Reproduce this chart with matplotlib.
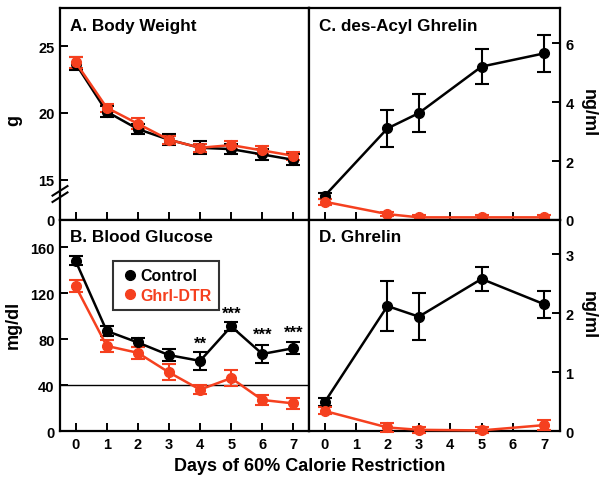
import matplotlib
matplotlib.use("Agg")
import matplotlib.pyplot as plt

plt.rcParams["font.family"] = ["Liberation Sans", "DejaVu Sans"]
plt.rcParams["font.weight"] = "bold"

RED = "#f5401f"
days = [0, 1, 2, 3, 4, 5, 6, 7]
hormone_days = [0, 2, 3, 5, 7]

# A. body weight (g)
bw_ctrl = [23.7, 20.1, 18.8, 18.0, 17.4, 17.3, 16.9, 16.5]
bw_ctrl_err = [0.5, 0.4, 0.4, 0.4, 0.5, 0.4, 0.4, 0.4]
bw_dtr = [23.8, 20.4, 19.2, 18.0, 17.4, 17.6, 17.2, 16.8]
bw_dtr_err = [0.4, 0.3, 0.4, 0.3, 0.3, 0.3, 0.3, 0.3]

# B. blood glucose (mg/dl)
glu_ctrl = [148, 87, 77, 66, 61, 91, 67, 72]
glu_ctrl_err = [4, 4, 4, 5, 8, 4, 8, 5]
glu_dtr = [126, 74, 68, 51, 36, 46, 27, 24]
glu_dtr_err = [5, 5, 5, 7, 4, 7, 4, 5]
glu_stars = ["", "", "", "", "**", "***", "***", "***"]
star_y = [0, 0, 0, 0, 70, 96, 78, 79]

# C. des-acyl ghrelin (ng/ml)
dag_ctrl = [0.82, 3.11, 3.63, 5.21, 5.66]
dag_ctrl_err = [0.1, 0.63, 0.64, 0.59, 0.63]
dag_dtr = [0.62, 0.2, 0.09, 0.09, 0.09]
dag_dtr_err = [0.1, 0.08, 0.08, 0.08, 0.08]

# D. ghrelin (ng/ml)
ghr_ctrl = [0.49, 2.12, 1.94, 2.58, 2.15]
ghr_ctrl_err = [0.07, 0.43, 0.4, 0.21, 0.23]
ghr_dtr = [0.34, 0.06, 0.02, 0.01, 0.1]
ghr_dtr_err = [0.06, 0.07, 0.05, 0.05, 0.08]

W, H = 601, 481
fig = plt.figure(figsize=(W / 100, H / 100), dpi=100)


def box(x0, y0, x1, y1):
    return [x0 / W, 1 - y1 / H, (x1 - x0) / W, (y1 - y0) / H]


def fx(px):
    return px / W


def fy(py):
    return 1 - py / H


axA = fig.add_axes(box(60, 9, 309, 221))
axB = fig.add_axes(box(60, 221, 309, 432))
axC = fig.add_axes(box(309, 9, 560, 221))
axD = fig.add_axes(box(309, 221, 560, 432))


def series(ax, x, y, e, color):
    ax.errorbar(x, y, yerr=e, color=color, marker="o", ms=7, lw=1.8,
                elinewidth=1.5, capsize=5, capthick=1.5, clip_on=False, zorder=3)


for ax in (axA, axB, axC, axD):
    for s in ax.spines.values():
        s.set_linewidth(1.6)
    ax.set_xlim(-0.5, 7.5)
    ax.set_xticks(days)
    ax.tick_params(direction="in", length=6, width=1.4, labelsize=10.5, pad=4)

TFS = 12.3

# A
series(axA, days, bw_ctrl, bw_ctrl_err, "black")
series(axA, days, bw_dtr, bw_dtr_err, RED)
axA.set_ylim(12, 27.85)
axA.set_yticks([12, 15, 20, 25])
axA.set_yticklabels(["0", "15", "20", "25"])
axA.tick_params(axis="x", labelbottom=False)
for dy in (0.0, 0.03):
    axA.plot([-0.03, 0.03], [0.085 + dy, 0.13 + dy], transform=axA.transAxes,
             color="black", lw=1.5, clip_on=False)
axA.text(0.04, 0.955, "A. Body Weight", transform=axA.transAxes, fontsize=TFS,
         fontweight="bold", va="top")

# B
axB.axhline(40, color="black", lw=1)
series(axB, days, glu_ctrl, glu_ctrl_err, "black")
series(axB, days, glu_dtr, glu_dtr_err, RED)
axB.set_ylim(0, 183.5)
axB.set_yticks([0, 40, 80, 120, 160])
for d, s, yy in zip(days, glu_stars, star_y):
    if s:
        axB.text(d, yy, s, ha="center", va="bottom", fontsize=12)
axB.text(0.04, 0.955, "B. Blood Glucose", transform=axB.transAxes, fontsize=TFS,
         fontweight="bold", va="top")
leg_h = [plt.Line2D([], [], color=c, marker="o", ls="none", ms=7) for c in ("black", RED)]
leg = axB.legend(leg_h, ["Control", "Ghrl-DTR"], loc="upper left",
                 bbox_to_anchor=(fx(113), fy(262)), bbox_transform=fig.transFigure,
                 frameon=True, fancybox=False, edgecolor="black", fontsize=11.5,
                 handletextpad=0.05, borderpad=0.45, labelspacing=0.3,
                 handlelength=1.2, borderaxespad=0)
leg.get_frame().set_linewidth(1.5)
for t, c in zip(leg.get_texts(), ("black", RED)):
    t.set_color(c)
    t.set_fontweight("bold")

# C
series(axC, hormone_days, dag_ctrl, dag_ctrl_err, "black")
series(axC, hormone_days, dag_dtr, dag_dtr_err, RED)
axC.set_ylim(0, 7.2)
axC.set_yticks([0, 2, 4, 6])
axC.tick_params(axis="y", left=False, labelleft=False, right=True, labelright=True)
axC.tick_params(axis="x", labelbottom=False)
axC.text(0.04, 0.955, "C. des-Acyl Ghrelin", transform=axC.transAxes, fontsize=TFS,
         fontweight="bold", va="top")

# D
series(axD, hormone_days, ghr_ctrl, ghr_ctrl_err, "black")
series(axD, hormone_days, ghr_dtr, ghr_dtr_err, RED)
axD.set_ylim(0, 3.58)
axD.set_yticks([0, 1, 2, 3])
axD.tick_params(axis="y", left=False, labelleft=False, right=True, labelright=True)
axD.text(0.04, 0.955, "D. Ghrelin", transform=axD.transAxes, fontsize=TFS,
         fontweight="bold", va="top")

for ax in (axA, axB, axC, axD):
    for lab in ax.get_xticklabels() + ax.get_yticklabels():
        lab.set_fontweight("bold")

# axis titles
fig.text(fx(14), fy(120), "g", rotation=90, ha="center", va="center",
         fontsize=13, fontweight="bold")
fig.text(fx(13), fy(325), "mg/dl", rotation=90, ha="center", va="center",
         fontsize=13, fontweight="bold")
fig.text(fx(588), fy(113), "ng/ml", rotation=270, ha="center", va="center",
         fontsize=13, fontweight="bold")
fig.text(fx(588), fy(315), "ng/ml", rotation=270, ha="center", va="center",
         fontsize=13, fontweight="bold")
fig.text(fx(310), fy(467), "Days of 60% Calorie Restriction", ha="center",
         va="center", fontsize=13, fontweight="bold")

fig.savefig("out.png", dpi=100)
